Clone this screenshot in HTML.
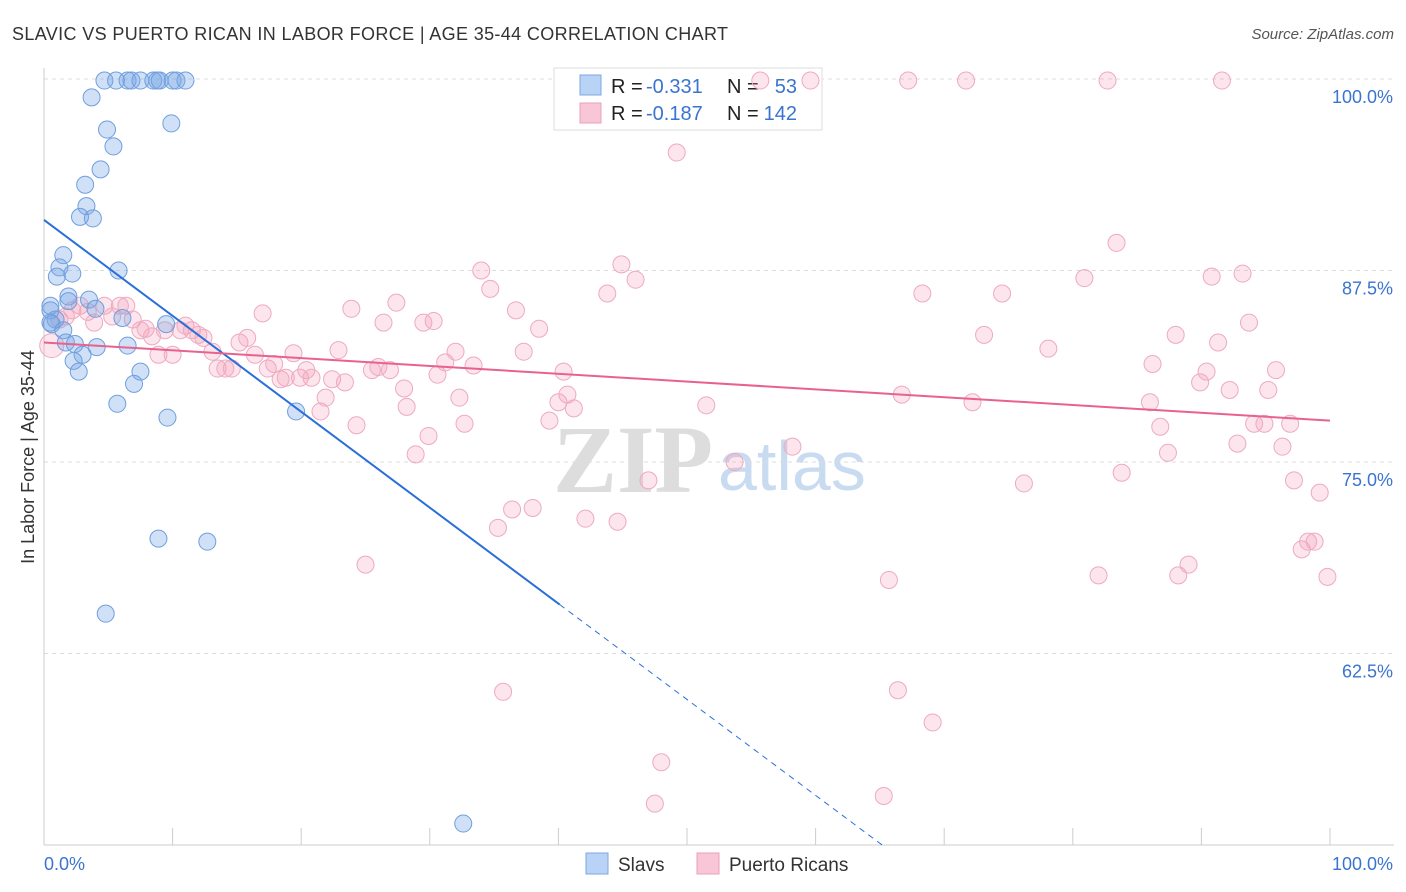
<!DOCTYPE html>
<html><head><meta charset="utf-8"><style>
body{margin:0;background:#fff;font-family:"Liberation Sans",sans-serif;}
svg{display:block}
</style></head><body>
<svg id="chart" width="1406" height="892">
<text x="12" y="40" font-size="18" fill="#333" textLength="716" lengthAdjust="spacing">SLAVIC VS PUERTO RICAN IN LABOR FORCE | AGE 35-44 CORRELATION CHART</text>
<text x="1394" y="39" font-size="15" fill="#555" font-style="italic" text-anchor="end">Source: ZipAtlas.com</text>
<g>
<text x="553" y="492" font-size="96" fill="#ddd" font-family="Liberation Serif,serif" font-weight="bold">ZIP</text>
<text x="718" y="490" font-size="70" fill="#c9dbf0">atlas</text>
</g>
<g id="grid"></g>
<g id="axes"></g>
<g>
<rect x="554" y="68" width="268" height="62" fill="#fff" stroke="#ddd"/>
<rect x="580" y="75" width="21" height="20" fill="#b8d3f5" stroke="#7ba7e0"/>
<text x="611" y="93" font-size="20" fill="#222">R =</text>
<text x="646" y="93" font-size="20" fill="#3a74d0">-0.331</text>
<text x="727" y="93" font-size="20" fill="#222">N =</text>
<text x="797" y="93" font-size="20" fill="#3a74d0" text-anchor="end">53</text>
<rect x="580" y="103" width="21" height="20" fill="#f8c6d6" stroke="#eaa0b8"/>
<text x="611" y="120" font-size="20" fill="#222">R =</text>
<text x="646" y="120" font-size="20" fill="#3a74d0">-0.187</text>
<text x="727" y="120" font-size="20" fill="#222">N =</text>
<text x="797" y="120" font-size="20" fill="#3a74d0" text-anchor="end">142</text>
</g>
<g id="pts"></g>
<g id="trend"></g>
<g>
<rect x="586" y="853" width="22" height="21" fill="#b8d3f5" stroke="#7ba7e0"/>
<text x="618" y="871" font-size="19" fill="#333">Slavs</text>
<rect x="697" y="853" width="22" height="21" fill="#f8c6d6" stroke="#eaa0b8"/>
<text x="729" y="871" font-size="19" fill="#333">Puerto Ricans</text>
</g>
<text x="44" y="870" font-size="18" fill="#3a74d0">0.0%</text>
<text x="1393" y="870" font-size="18" fill="#3a74d0" text-anchor="end">100.0%</text>
<text transform="translate(34,457) rotate(-90)" font-size="18" fill="#333" text-anchor="middle">In Labor Force | Age 35-44</text>
</svg>
<script>
const yTicks=[100,87.5,75,62.5];
const yTickLabels=["100.0%","87.5%","75.0%","62.5%"];
const xTicks=[0,10,20,30,40,50,60,70,80,90,100];
const slavX=[4.7,5.6,6.5,6.8,7.5,8.5,8.8,9.0,10.0,10.3,11.0,3.7,4.9,5.4,9.9,4.4,3.2,3.3,2.8,3.8,1.5,1.2,2.2,1.0,5.8,1.9,1.9,3.5,0.5,0.5,4.0,6.1,0.9,0.6,0.5,1.5,1.7,2.4,4.1,6.5,3.0,2.3,2.7,7.5,7.0,5.7,9.6,9.5,19.6,8.9,12.7,4.8,32.6];
const slavY=[99.9,99.9,99.9,99.9,99.9,99.9,99.9,99.9,99.9,99.9,99.9,98.8,96.7,95.6,97.1,94.1,93.1,91.7,91.0,90.9,88.5,87.7,87.3,87.1,87.5,85.8,85.5,85.6,85.2,84.9,85.0,84.4,84.3,84.0,84.1,83.6,82.8,82.7,82.5,82.6,82.0,81.6,80.9,80.9,80.1,78.8,77.9,84.0,78.3,70.0,69.8,65.1,51.4];
const prX=[0.6,1.2,1.7,2.2,2.8,3.4,3.9,4.7,5.3,5.9,6.4,6.9,7.5,7.9,8.4,8.9,9.4,10.0,10.6,11.0,11.5,12.0,12.4,13.1,13.5,14.1,14.6,15.2,15.8,16.4,17.0,17.4,17.9,18.4,18.8,19.4,19.9,20.4,20.8,21.5,21.9,22.4,22.9,23.4,23.9,24.3,25.0,25.5,26.0,26.4,26.9,27.4,28.0,28.2,29.5,29.9,30.3,28.9,30.6,31.2,32.0,32.3,32.7,33.4,34.0,34.7,35.3,35.7,36.4,36.7,37.3,38.0,38.5,39.3,40.0,40.4,40.7,41.2,42.1,43.8,44.6,44.9,46.0,47.0,48.0,47.5,49.2,51.5,53.7,55.7,58.2,59.6,65.7,66.4,66.7,67.2,68.3,69.1,65.3,71.7,72.2,73.1,74.5,76.2,78.1,80.9,82.0,82.7,83.4,83.8,86.0,86.2,86.8,87.4,88.0,88.2,89.0,89.9,90.4,90.8,91.3,91.6,92.2,92.8,93.2,93.7,94.1,94.9,95.2,95.8,96.3,96.9,97.2,97.8,98.3,98.8,99.2,99.8];
const prY=[82.6,84.3,84.5,84.9,85.2,84.8,84.1,85.2,84.5,85.2,85.2,84.3,83.6,83.7,83.2,82.0,83.6,82.0,83.6,83.9,83.6,83.3,83.1,82.2,81.1,81.1,81.1,82.8,83.1,82.0,84.7,81.1,81.4,80.4,80.5,82.1,80.5,81.0,80.5,78.3,79.2,80.4,82.3,80.2,85.0,77.4,68.3,81.0,81.2,84.1,81.0,85.4,79.8,78.6,84.1,76.7,84.2,75.5,80.7,81.5,82.2,79.2,77.5,81.3,87.5,86.3,70.7,60.0,71.9,84.9,82.2,72.0,83.7,77.7,78.9,80.9,79.4,78.5,71.3,86.0,71.1,87.9,86.9,73.8,55.4,52.7,95.2,78.7,75.0,99.9,76.0,99.9,67.3,60.1,79.4,99.9,86.0,58.0,53.2,99.9,78.9,83.3,86.0,73.6,82.4,87.0,67.6,99.9,89.3,74.3,78.9,81.4,77.3,75.6,83.3,67.6,68.3,80.2,80.9,87.1,82.8,99.9,79.7,76.2,87.3,84.1,77.5,77.5,79.7,81.0,76.0,77.5,73.8,69.3,69.8,69.8,73.0,67.5];
const slavTrend=[90.8,-0.626];
const prTrend=[82.8,-0.051];
const NS="http://www.w3.org/2000/svg";
const sx=v=>44+v*12.86;
const sy=v=>79+(100-v)*15.32;
function mk(tag,attrs,parent){const e=document.createElementNS(NS,tag);for(const k in attrs)e.setAttribute(k,attrs[k]);parent.appendChild(e);return e;}
const grid=document.getElementById('grid'),axes=document.getElementById('axes'),pts=document.getElementById('pts'),tr=document.getElementById('trend');
yTicks.forEach((t,i)=>{
 const l=mk('line',{x1:44,x2:1394,y1:sy(t),y2:sy(t),stroke:'#ddd','stroke-dasharray':'4 4'},grid);
 
 
 const tx=mk('text',{x:1393,y:sy(t)+24,'font-size':18,fill:'#3a74d0','text-anchor':'end'},grid);
 tx.textContent=yTickLabels[i];
 
 
});
const ax=mk('line',{x1:44,x2:1394,y1:845,y2:845,stroke:'#ccc'},axes);


const ay=mk('line',{x1:44,x2:44,y1:68,y2:845,stroke:'#ccc'},axes);


xTicks.forEach(t=>{
 const l=mk('line',{x1:sx(t),x2:sx(t),y1:828,y2:845,stroke:'#ccc'},axes);
 
 
});
prX.forEach((x,i)=>{
 const c=mk('circle',{cx:sx(x),cy:sy(prY[i]),r:i===0?12:8.5,fill:'rgba(244,160,188,0.28)',stroke:'#eeaac0','stroke-width':1},pts);
 
 
});
slavX.forEach((x,i)=>{
 const c=mk('circle',{cx:sx(x),cy:sy(slavY[i]),r:8.5,fill:'rgba(120,165,230,0.35)',stroke:'#6f9fde','stroke-width':1},pts);
 
 
});
const sEndSolid=40.1, sEnd=(50-slavTrend[0])/slavTrend[1];
const l1=mk('line',{x1:sx(0),y1:sy(slavTrend[0]),x2:sx(sEndSolid),y2:sy(slavTrend[0]+slavTrend[1]*sEndSolid),stroke:'#2a6fd8','stroke-width':2},tr);


const l2=mk('line',{x1:sx(sEndSolid),y1:sy(slavTrend[0]+slavTrend[1]*sEndSolid),x2:sx(sEnd),y2:sy(50),stroke:'#2a6fd8','stroke-width':1,'stroke-dasharray':'6 5'},tr);


const l3=mk('line',{x1:sx(0),y1:sy(prTrend[0]),x2:sx(100),y2:sy(prTrend[0]+prTrend[1]*100),stroke:'#e8628e','stroke-width':2},tr);


</script>
</body></html>
